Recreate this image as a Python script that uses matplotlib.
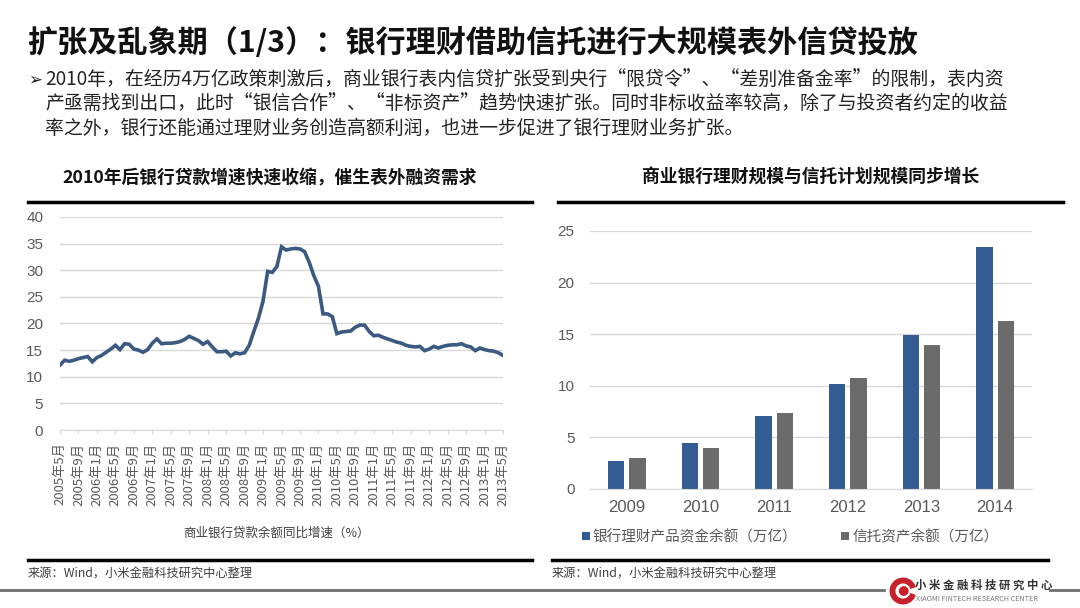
import matplotlib
matplotlib.use("Agg")
import matplotlib.pyplot as plt
from matplotlib.lines import Line2D
from matplotlib.patches import Circle, Wedge
import numpy as np

plt.rcParams['font.family'] = ['Noto Sans CJK SC', 'DejaVu Sans']

W, H = 1080, 608

# ---------------- data ----------------
title = "扩张及乱象期（1/3）：银行理财借助信托进行大规模表外信贷投放"
bullet_lines = [
    "2010年，在经历4万亿政策刺激后，商业银行表内信贷扩张受到央行“限贷令”、“差别准备金率”的限制，表内资",
    "产亟需找到出口，此时“银信合作”、“非标资产”趋势快速扩张。同时非标收益率较高，除了与投资者约定的收益",
    "率之外，银行还能通过理财业务创造高额利润，也进一步促进了银行理财业务扩张。",
]
left_title = "2010年后银行贷款增速快速收缩，催生表外融资需求"
right_title = "商业银行理财规模与信托计划规模同步增长"
source_text = "来源：Wind，小米金融科技研究中心整理"

# monthly loan growth, 2005-05 .. 2013-05 (%)
loan_growth = [
    12.2, 13.1, 12.9, 13.1, 13.4, 13.6, 13.8, 12.8, 13.6, 14.0,
    14.6, 15.2, 15.9, 15.1, 16.2, 16.1, 15.2, 15.0, 14.6, 15.1,
    16.3, 17.1, 16.2, 16.3, 16.3, 16.4, 16.6, 17.0, 17.6, 17.2,
    16.8, 16.1, 16.6, 15.6, 14.7, 14.7, 14.8, 13.9, 14.5, 14.3,
    14.5, 15.9, 18.5, 21.0, 24.2, 29.8, 29.6, 30.7, 34.4, 33.8,
    34.0, 34.1, 34.0, 33.5, 31.5, 29.0, 27.0, 21.8, 21.8, 21.3,
    18.1, 18.4, 18.5, 18.6, 19.3, 19.7, 19.7, 18.5, 17.7, 17.8,
    17.4, 17.1, 16.8, 16.5, 16.3, 15.9, 15.7, 15.6, 15.7, 14.9,
    15.2, 15.7, 15.4, 15.7, 15.9, 16.0, 16.0, 16.2, 15.8, 15.6,
    14.9, 15.4, 15.1, 14.9, 14.8, 14.5, 14.0,
]
month_labels = []
for i in range(len(loan_growth)):
    m = 5 + i
    y = 2005 + (m - 1) // 12
    mm = (m - 1) % 12 + 1
    month_labels.append(f"{y}年{mm}月")
left_xlabel = "商业银行贷款余额同比增速（%）"
left_yticks = [0, 5, 10, 15, 20, 25, 30, 35, 40]

years = ["2009", "2010", "2011", "2012", "2013", "2014"]
bank_wmp = [2.7, 4.5, 7.05, 10.15, 14.95, 23.45]
trust_assets = [3.0, 4.0, 7.4, 10.8, 13.95, 16.25]
series_names = ["银行理财产品资金余额（万亿）", "信托资产余额（万亿）"]
right_yticks = [0, 5, 10, 15, 20, 25]

# ---------------- figure ----------------
fig = plt.figure(figsize=(W / 100, H / 100), dpi=100)
fig.patch.set_facecolor("white")

def fx(x):
    return x / W

def fy(y):
    return 1 - y / H

def hline(x0, x1, y, color="black", lw=2.5):
    fig.add_artist(Line2D([fx(x0), fx(x1)], [fy(y), fy(y)], color=color, lw=lw,
                          transform=fig.transFigure))

def add_axes_px(x0, y0, x1, y1):
    return fig.add_axes([fx(x0), fy(y1), (x1 - x0) / W, (y1 - y0) / H])

txt_gray = "#404040"
tick_gray = "#595959"
grid_gray = "#d9d9d9"
line_blue = "#3b5a81"
bar_blue = "#335c93"
bar_gray = "#6b6b6b"

# title
fig.text(fx(27), fy(42), title, fontsize=21.7, fontweight="bold", color="#111111",
         ha="left", va="center")

# bullet text
for i, ln in enumerate(bullet_lines):
    yy = 80 + i * 24
    if i == 0:
        fig.text(fx(28), fy(yy), "➢", fontsize=12, color="#222222", ha="left", va="center",
                 family=["DejaVu Sans"])
    fig.text(fx(45), fy(yy), ln, fontsize=13.6, color="#222222", ha="left", va="center")

# panel headers
fig.text(fx(270), fy(178), left_title, fontsize=12.8, fontweight="bold", color="#111111",
         ha="center", va="center")
fig.text(fx(811), fy(178), right_title, fontsize=12.8, fontweight="bold", color="#111111",
         ha="center", va="center")
hline(28, 532, 202)
hline(558, 1063, 202)
hline(28, 532, 560)
hline(552, 1048, 560)
fig.text(fx(28), fy(574), source_text, fontsize=8.8, color=txt_gray, ha="left", va="center")
fig.text(fx(552), fy(574), source_text, fontsize=8.8, color=txt_gray, ha="left", va="center")
hline(0, 884, 590, color="#6f6f6f", lw=2)
hline(1050, 1080, 590, color="#6f6f6f", lw=2)

# ---------------- left line chart ----------------
ax1 = add_axes_px(60, 217, 503, 430)
xs = list(range(len(loan_growth)))
ax1.plot(xs, loan_growth, color=line_blue, lw=2.6, solid_joinstyle="miter")
ax1.set_xlim(0, len(loan_growth) - 1)
ax1.set_ylim(0, 40)
ax1.set_yticks(left_yticks)
ax1.set_yticklabels([str(v) for v in left_yticks], fontsize=11, color=tick_gray,
                    family=["Liberation Sans", "DejaVu Sans"])
ax1.tick_params(axis="y", length=0, pad=12)
ax1.set_xticks(xs[::4])
ax1.set_xticklabels(month_labels[::4], rotation=90, fontsize=9.5, color=tick_gray)
ax1.tick_params(axis="x", length=3, color=grid_gray, pad=6)
ax1.grid(axis="y", color=grid_gray, lw=1)
ax1.set_axisbelow(True)
for s in ["top", "right", "left"]:
    ax1.spines[s].set_visible(False)
ax1.spines["bottom"].set_color(grid_gray)
fig.text(fx(276), fy(533), left_xlabel, fontsize=9, color=txt_gray, ha="center", va="center")

# ---------------- right bar chart ----------------
ax2 = add_axes_px(590, 231, 1032, 489)
xi = np.arange(len(years))
bw = 0.22
ax2.bar(xi - 0.145, bank_wmp, width=bw, color=bar_blue, label=series_names[0])
ax2.bar(xi + 0.145, trust_assets, width=bw, color=bar_gray, label=series_names[1])
ax2.set_xlim(-0.5, len(years) - 0.5)
ax2.set_ylim(0, 25)
ax2.set_yticks(right_yticks)
ax2.set_yticklabels([str(v) for v in right_yticks], fontsize=11, color=tick_gray,
                    family=["Liberation Sans", "DejaVu Sans"])
ax2.tick_params(axis="y", length=0, pad=11)
ax2.set_xticks(xi)
ax2.set_xticklabels(years, fontsize=12, color=tick_gray,
                    family=["Liberation Sans", "DejaVu Sans"])
ax2.tick_params(axis="x", length=0, pad=8)
ax2.grid(axis="y", color=grid_gray, lw=1)
ax2.set_axisbelow(True)
for s in ["top", "right", "left"]:
    ax2.spines[s].set_visible(False)
ax2.spines["bottom"].set_color(grid_gray)
leg = fig.legend(loc="center", bbox_to_anchor=(fx(790), fy(537)), ncol=2, frameon=False,
                 fontsize=10.5, handlelength=0.55, handleheight=0.55, handletextpad=0.2,
                 columnspacing=3.0)
for t in leg.get_texts():
    t.set_color(tick_gray)

# ---------------- logo ----------------
lax = fig.add_axes([fx(888), fy(606), 30 / W, 30 / H])
lax.set_xlim(-1, 1)
lax.set_ylim(-1, 1)
lax.set_aspect("equal")
lax.axis("off")
lax.add_patch(Wedge((0, 0), 0.85, 20, 340, width=0.3, color="#c8202a"))
lax.add_patch(Circle((0.05, 0), 0.28, color="#c8202a"))
fig.text(fx(915), fy(585), "小 米 金 融 科 技 研 究 中 心", fontsize=8.2, fontweight="bold",
         color="#333333", ha="left", va="center")
fig.text(fx(916), fy(599), "XIAOMI FINTECH RESEARCH CENTER", fontsize=5.2, color="#777777",
         ha="left", va="center")

fig.savefig("out.png", dpi=100)
